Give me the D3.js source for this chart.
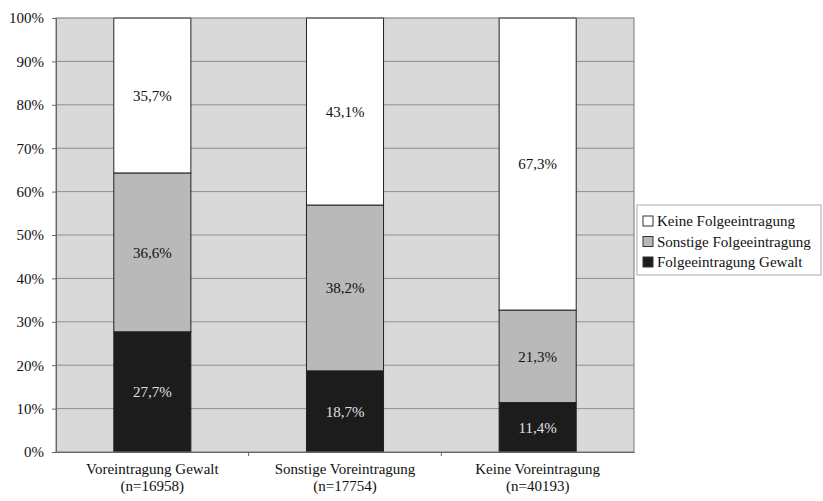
<!DOCTYPE html>
<html>
<head>
<meta charset="utf-8">
<script src="https://cdn.jsdelivr.net/npm/d3@7"></script>
<style>
  body { margin: 0; background: #fff; }
  svg text { font-family: 'Liberation Serif', serif !important; }
</style>
</head>
<body>
<svg id="chart" width="823" height="501"></svg>
<script>
// Data
const categories = ["Voreintragung Gewalt", "Sonstige Voreintragung", "Keine Voreintragung"];
const sampleSizes = ["(n=16958)", "(n=17754)", "(n=40193)"];
const seriesNames = ["Folgeeintragung Gewalt", "Sonstige Folgeeintragung", "Keine Folgeeintragung"];
const gewalt = [27.7, 18.7, 11.4];
const sonstige = [36.6, 38.2, 21.3];
const keine = [35.7, 43.1, 67.3];
const yTicks = [0, 10, 20, 30, 40, 50, 60, 70, 80, 90, 100];

const colors = { "Folgeeintragung Gewalt": "#1c1c1c", "Sonstige Folgeeintragung": "#b9b9b9", "Keine Folgeeintragung": "#ffffff" };
const labelColors = { "Folgeeintragung Gewalt": "#e0e0e0", "Sonstige Folgeeintragung": "#111", "Keine Folgeeintragung": "#111" };
const FONT = "'Liberation Serif', serif";

// Layout
const margin = { left: 56, top: 18, right: 189, bottom: 49 };
const width = 823, height = 501;
const plotW = width - margin.left - margin.right;
const plotH = height - margin.top - margin.bottom;

const svg = d3.select("#chart");
const g = svg.append("g").attr("transform", `translate(${margin.left},${margin.top})`);

const x = d3.scaleBand().domain(categories).range([0, plotW]).paddingInner(0).paddingOuter(0);
const y = d3.scaleLinear().domain([0, 100]).range([plotH, 0]);
const barW = x.bandwidth() * 0.4;

// serif text helper
function serif(sel) {
    return sel.style("font-family", FONT, "important").style("font-size", "15px");
}

// Table for stacking
const table = categories.map((c, i) => ({
    category: c,
    "Folgeeintragung Gewalt": gewalt[i],
    "Sonstige Folgeeintragung": sonstige[i],
    "Keine Folgeeintragung": keine[i]
}));
const stacked = d3.stack().keys(seriesNames)(table);

// Plot background
g.append("rect")
    .attr("width", plotW).attr("height", plotH)
    .attr("fill", "#d9d9d9");

// Grid lines
g.selectAll(".grid").data(yTicks.slice(1, -1)).join("line")
    .attr("x1", 0).attr("x2", plotW)
    .attr("y1", d => y(d)).attr("y2", d => y(d))
    .attr("stroke", "#8f8f8f").attr("stroke-width", 1);

// Bars
const layers = g.selectAll(".layer").data(stacked).join("g")
    .attr("fill", d => colors[d.key]);

layers.selectAll("rect").data(d => d).join("rect")
    .attr("x", d => x(d.data.category) + (x.bandwidth() - barW) / 2)
    .attr("width", barW)
    .attr("y", d => y(d[1]))
    .attr("height", d => y(d[0]) - y(d[1]))
    .attr("stroke", "#222").attr("stroke-width", 1);

// Segment labels
stacked.forEach(layer => {
    g.selectAll(null).data(layer).join("text")
        .attr("x", d => x(d.data.category) + x.bandwidth() / 2)
        .attr("y", d => (y(d[0]) + y(d[1])) / 2)
        .attr("dy", "0.35em")
        .attr("text-anchor", "middle")
        .attr("fill", labelColors[layer.key])
        .call(serif)
        .text(d => (d[1] - d[0]).toFixed(1).replace(".", ",") + "%");
});

// Plot border
g.append("rect")
    .attr("width", plotW).attr("height", plotH)
    .attr("fill", "none").attr("stroke", "#777");

// Y axis
const yAxis = g.append("g")
    .call(d3.axisLeft(y).tickValues(yTicks).tickSize(4).tickFormat(d => d + "%"))
    .attr("font-family", null);
yAxis.select(".domain").attr("stroke", "#666");
yAxis.selectAll(".tick line").attr("stroke", "#666");
yAxis.selectAll(".tick text")
    .attr("fill", "#111")
    .attr("x", -12)
    .call(serif);

// X axis
const xAxis = g.append("g").attr("transform", `translate(0,${plotH})`)
    .call(d3.axisBottom(x).tickSize(0).tickFormat(""));
xAxis.select(".domain").attr("stroke", "#666");
g.selectAll(".xsep").data(categories.slice(1)).join("line")
    .attr("x1", d => x(d)).attr("x2", d => x(d))
    .attr("y1", plotH).attr("y2", plotH + 4)
    .attr("stroke", "#666");

const xLabels = g.selectAll(".xlabel").data(categories).join("text")
    .attr("x", d => x(d) + x.bandwidth() / 2)
    .attr("y", plotH + 22)
    .attr("text-anchor", "middle")
    .attr("fill", "#111")
    .call(serif);
xLabels.append("tspan").text(d => d);
xLabels.append("tspan")
    .attr("x", d => x(d) + x.bandwidth() / 2)
    .attr("dy", 17)
    .text((d, i) => sampleSizes[i]);

// Legend
const legend = svg.append("g").attr("transform", "translate(637,205)");
legend.append("rect")
    .attr("width", 184).attr("height", 70)
    .attr("fill", "#fff").attr("stroke", "#aaa");

const legendOrder = seriesNames.slice().reverse();
const items = legend.selectAll(".item").data(legendOrder).join("g")
    .attr("transform", (d, i) => `translate(6,${16 + i * 20.5})`);
items.append("rect")
    .attr("x", 0).attr("y", -5).attr("width", 10).attr("height", 10)
    .attr("fill", d => colors[d]).attr("stroke", "#333");
items.append("text")
    .attr("x", 14).attr("dy", "0.35em")
    .attr("fill", "#111")
    .call(serif)
    .text(d => d);
</script>
</body>
</html>
